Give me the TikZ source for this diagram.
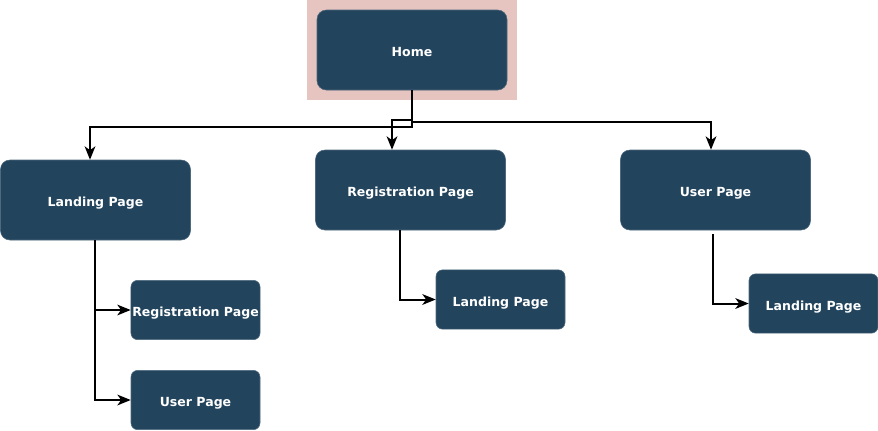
\documentclass[tikz,border=0pt]{standalone}
\usepackage{fontspec}
\setmainfont{DejaVu Sans}
\usetikzlibrary{arrows.meta}

\definecolor{pagefill}{HTML}{23445D}
\definecolor{rootback}{HTML}{E6C4BF}

\begin{document}
\begin{tikzpicture}[
        x=0.75pt, y=-0.75pt,
        page/.style={fill=pagefill, draw=pagefill!80!white, rounded corners=7pt,
            text=white, font=\bfseries\fontsize{9.4}{10}\selectfont,
            text height=1.8ex, text depth=0pt,
            minimum width=142.5pt, minimum height=60pt, inner sep=1pt},
        subpage/.style={page, rounded corners=5pt,
            minimum width=96.75pt, minimum height=44.5pt},
        link/.style={draw=black, line width=1.5pt,
            -{Stealth[length=10pt, width=8pt, inset=2.8pt]}}
    ]
    \useasboundingbox (0, 0) rectangle (878, 430);

    % root with its backdrop
    \fill[rootback] (307, 0) rectangle (517, 100);
    \node[page] (home) at (412, 50) {Home};

    % first level
    \node[page] (landing) at (95.5, 200) {Landing Page};
    \node[page] (register) at (410.5, 190) {Registration Page};
    \node[page] (user) at (715.5, 190) {User Page};

    % second level
    \node[subpage] (landreg) at (195.5, 310) {Registration Page};
    \node[subpage] (landuser) at (195.5, 400) {User Page};
    \node[subpage] (reglanding) at (500.5, 299.5) {Landing Page};
    \node[subpage] (userlanding) at (813.5, 303.5) {Landing Page};

    % from the root
    \draw[link] (home.south) -- (412, 127) -| ([shift={(-5.5, 0)}]landing.north);
    \draw[link] (home.south) -- (412, 120) -| ([shift={(-18.5, 0)}]register.north);
    \draw[link] (home.south) -- (412, 122) -| ([shift={(-4.5, 0)}]user.north);

    % to the second level
    \draw[link] ([shift={(-0.5, 0)}]landing.south) |- (landreg.west);
    \draw[link] ([shift={(-0.5, 0)}]landing.south) |- (landuser.west);
    \draw[link] ([shift={(-10.5, 0)}]register.south) |- (reglanding.west);
    \draw[link] ([shift={(-2.5, 4)}]user.south) |- (userlanding.west);
\end{tikzpicture}
\end{document}
